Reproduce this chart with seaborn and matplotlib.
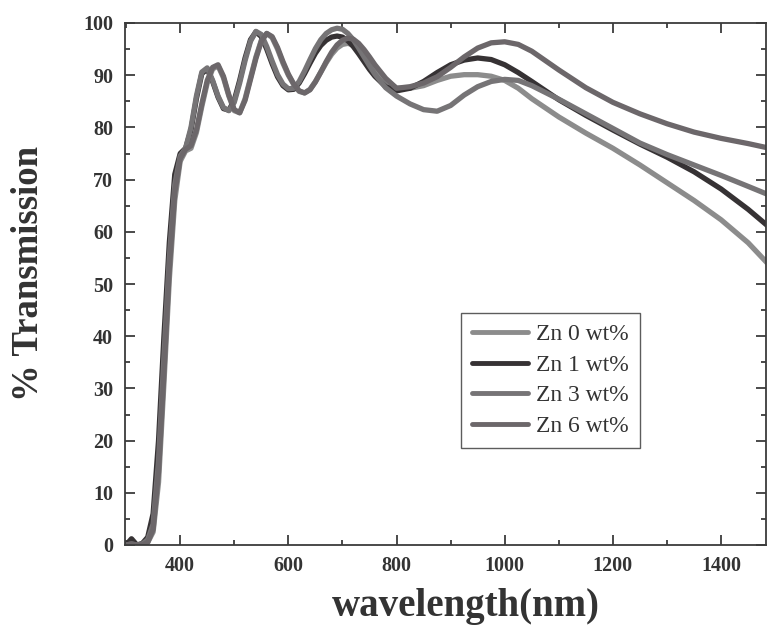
import numpy as np
import pandas as pd
import matplotlib
matplotlib.use("Agg")
import matplotlib.pyplot as plt
from matplotlib.ticker import MultipleLocator
import seaborn as sns

wavelength = [300, 310, 320, 330, 340, 350, 360, 370, 380, 390, 400, 410, 420, 430, 440, 450,
              460, 470, 480, 490, 500, 510, 520, 530, 540, 550, 560, 570, 580, 590, 600, 610,
              620, 630, 640, 650, 660, 670, 680, 690, 700, 710, 720, 730, 740, 750, 760, 780,
              800, 825, 850, 875, 900, 925, 950, 975, 1000, 1025, 1050, 1100, 1150, 1200, 1250,
              1300, 1350, 1400, 1450, 1490]

zn0 = [0, 0.2, 0, 0, 0.5, 2.5, 12, 31, 51, 66, 73.5, 75.5, 76, 79, 84, 88.5,
       91.2, 91.8, 89.5, 86, 83.2, 82.8, 85.5, 89.5, 93.5, 96.7, 98, 97.2, 95, 92.3, 90, 88.2,
       86.9, 86.6, 87.3, 88.8, 90.6, 92.4, 94, 95.2, 95.9, 96.1, 95.8, 95, 93.9, 92.6, 91.3, 89,
       87.5, 87.5, 88, 89, 89.8, 90.1, 90.1, 89.8, 89, 87.5, 85.5, 82, 78.9, 76, 72.8,
       69.4, 66, 62.3, 57.9, 53.5]

zn1 = [0, 1.2, 0, 0.3, 1.5, 6, 20, 40, 58, 71, 75, 76, 79.5, 85.5, 90.3, 91.2,
       88.8, 85.8, 83.6, 83.3, 85.2, 89, 93.3, 96.8, 98.3, 97.4, 95, 92.2, 89.7, 88, 87.2, 87.3,
       88.5, 90.3, 92.3, 94.2, 95.7, 96.7, 97.3, 97.5, 97.3, 96.6, 95.5, 94.1, 92.6, 91.1, 89.8, 87.8,
       87, 87.5, 88.8, 90.5, 92, 92.9, 93.3, 93, 92, 90.5, 88.8, 85.3, 82.3, 79.5, 76.8,
       74.3, 71.5, 68.2, 64.3, 60.8]

zn3 = [0, 0.2, 0, 0.2, 1, 4, 16, 36, 55, 69, 74.5, 76, 80, 86, 90.6, 91.4,
       89, 86, 83.8, 83.2, 84.8, 88.5, 92.8, 96.5, 98.4, 97.8, 95.5, 92.7, 90.1, 88.3, 87.4, 87.5,
       88.8, 90.8, 93, 95.1, 96.8, 98, 98.7, 99, 98.8, 98, 96.8, 95.2, 93.5, 91.8, 90.2, 87.6,
       86, 84.5, 83.4, 83.1, 84.2, 86.2, 87.8, 88.8, 89.2, 89, 88, 85.4, 82.6, 79.8, 77,
       74.8, 72.8, 70.8, 68.7, 67]

zn6 = [0, 0.2, 0, 0, 0.5, 3, 14, 33, 53, 67.5, 74, 75.8, 76.5, 79.5, 84.5, 89,
       91.5, 92, 89.8, 86.2, 83.4, 82.8, 85.2, 89.2, 93.2, 96.5, 98, 97.4, 95.3, 92.6, 90.2, 88.3,
       87, 86.6, 87.2, 88.7, 90.6, 92.6, 94.4, 95.8, 96.7, 97.1, 96.9, 96.1, 94.9, 93.5, 92, 89.4,
       87.5, 87.8, 88.5, 89.7, 91.5, 93.5, 95.2, 96.2, 96.4, 95.9, 94.6, 91, 87.6, 84.8, 82.6,
       80.7, 79.1, 77.9, 76.9, 76]

labels = ["Zn 0 wt%", "Zn 1 wt%", "Zn 3 wt%", "Zn 6 wt%"]
colors = ["#8c8c8c", "#363234", "#767476", "#6c676a"]

df = pd.concat([
    pd.DataFrame({"wavelength": wavelength, "T": vals, "sample": lab})
    for vals, lab in zip([zn0, zn1, zn3, zn6], labels)
], ignore_index=True)

sns.set_theme(style="ticks")
plt.rcParams["font.family"] = ["Liberation Serif", "DejaVu Serif"]

fig = plt.figure(figsize=(7.67, 6.3), dpi=100)
ax = fig.add_axes([125 / 767, 85 / 630, 641 / 767, 522 / 630])

sns.lineplot(data=df, x="wavelength", y="T", hue="sample", hue_order=labels,
             palette=dict(zip(labels, colors)), estimator=None, sort=False,
             linewidth=3.8, ax=ax, legend=True)

ax.set_xlim(298, 1483)
ax.set_ylim(0, 100)
ax.xaxis.set_major_locator(MultipleLocator(200))
ax.xaxis.set_minor_locator(MultipleLocator(100))
ax.yaxis.set_major_locator(MultipleLocator(10))
ax.yaxis.set_minor_locator(MultipleLocator(5))

spine_col = "#3c3c3c"
for s in ax.spines.values():
    s.set_color(spine_col)
    s.set_linewidth(1.3)

ax.tick_params(which="both", direction="in", top=True, right=True, colors=spine_col,
               width=1.3)
ax.tick_params(which="major", length=7)
ax.tick_params(which="minor", length=3.5)
ax.tick_params(axis="y", which="major", pad=8.5)
ax.tick_params(axis="x", which="major", pad=8)
for lab in ax.get_xticklabels() + ax.get_yticklabels():
    lab.set_fontsize(14.5)
    lab.set_fontweight("bold")
    lab.set_color("#333333")

ax.set_xlabel("wavelength(nm)", fontsize=28, fontweight="bold", color="#333333")
ax.set_ylabel("% Transmission", fontsize=26.5, fontweight="bold", color="#333333",
              va="center")
ax.xaxis.set_label_coords(0.532, -0.083)
ax.yaxis.set_label_coords(-0.151, 0.52)

leg = ax.legend(loc="upper left", bbox_to_anchor=(0.524, 0.444), borderaxespad=0,
                frameon=True, fancybox=False, fontsize=17, handlelength=2.4,
                handletextpad=0.35, labelspacing=0.38, borderpad=0.45)
leg.get_frame().set_edgecolor("#333333")
leg.get_frame().set_linewidth(1.0)
for h in leg.get_lines():
    h.set_linewidth(3.5)
for t in leg.get_texts():
    t.set_color("#333333")

fig.savefig("out.png", dpi=100, facecolor="white")
